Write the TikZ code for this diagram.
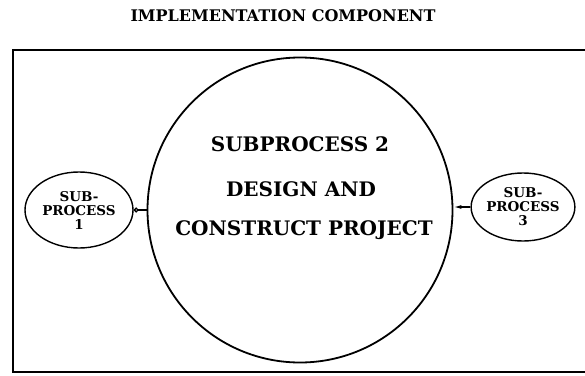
\documentclass[tikz,border=0pt]{standalone}
\usepackage{fontspec}
\setmainfont{DejaVu Serif}
\usetikzlibrary{arrows.meta,shapes.geometric}
\tikzset{
  frame/.style={line width=1.6pt},
  bigproc/.style={circle, draw, line width=1.8pt, minimum size=305pt, inner sep=0pt},
  smallproc/.style={ellipse, draw, line width=1.4pt, inner sep=0pt, align=center, font=\bfseries\fontsize{13.5}{14}\selectfont},
  bigtext/.style={font=\bfseries\fontsize{20}{20}\selectfont},
  link/.style={line width=1.4pt}
}
\begin{document}
\begin{tikzpicture}[x=1pt,y=-1pt]
\useasboundingbox (0,0) rectangle (585,375);
\node[font=\bfseries\fontsize{16}{16}\selectfont] (title) at (283,16) {IMPLEMENTATION COMPONENT};
\draw[frame] (586,50) -- (13,50) -- (13,372) -- (586,372);
\node[bigproc] (sp2) at (300,210) {};
\node[bigtext] (t1) at (300,144) {SUBPROCESS 2};
\node[bigtext] (t2) at (301,189) {DESIGN AND};
\node[bigtext] (t3) at (304,230) {CONSTRUCT PROJECT};
\node[smallproc, minimum width=108pt, minimum height=76pt] (sp1) at (79,210) {SUB-\\PROCESS\\1};
\node[smallproc, minimum width=102pt, minimum height=68pt] (sp3) at (523,207) {SUB-\\PROCESS\\3};
\draw[link, {Circle[open,length=5pt,width=5pt]}-] (sp1.east) -- (sp1.east -| sp2.west);
\draw[link, -{Latex[length=8pt,width=4pt]}] (sp3.west) -- (sp3.west -| sp2.east);
\end{tikzpicture}
\end{document}
